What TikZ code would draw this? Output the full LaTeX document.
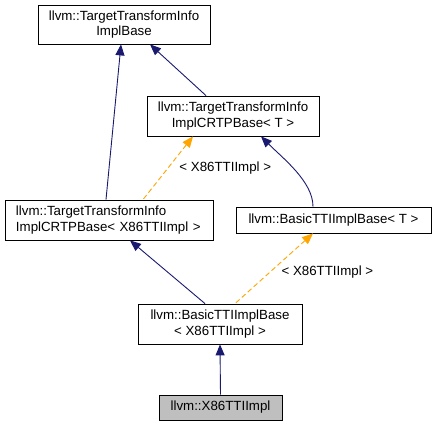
\documentclass[tikz,border=0pt]{standalone}
\usepackage{fontspec}
\setmainfont{Liberation Sans}
\usetikzlibrary{arrows.meta}
\definecolor{edgeblue}{HTML}{191970}
\definecolor{edgeorange}{HTML}{FFA500}
\definecolor{boxgray}{HTML}{BFBFBF}
\tikzset{
  cls/.style={draw=black, line width=0.8pt, fill=white, inner sep=0pt, align=center,
    font=\fontsize{13.3}{15.3}\selectfont},
  inh/.style={draw=edgeblue, line width=0.9pt, {Triangle[length=11pt,width=9pt]}-},
  tmpl/.style={draw=edgeorange, line width=0.9pt, dash pattern=on 5pt off 3pt,
    {Triangle[length=11pt,width=9pt]}-},
  lbl/.style={font=\fontsize{13.3}{15.3}\selectfont, inner sep=0pt}
}
\begin{document}
\begin{tikzpicture}[x=1pt,y=-1pt]
\useasboundingbox (0,0) rectangle (437,427);
\node[cls, minimum width=172pt, minimum height=39pt] (A) at (124,24.5)
  {llvm::TargetTransformInfo\\ImplBase};
\node[cls, minimum width=172pt, minimum height=40pt] (B) at (233,116)
  {llvm::TargetTransformInfo\\ImplCRTPBase< T >};
\node[cls, minimum width=208pt, minimum height=40pt, text width=186pt, align=left] (C) at (109,220)
  {llvm::TargetTransformInfo\\ImplCRTPBase< X86TTIImpl >};
\node[cls, minimum width=195pt, minimum height=26pt] (D) at (333.5,220)
  {llvm::BasicTTIImplBase< T >};
\node[cls, minimum width=164pt, minimum height=40pt] (E) at (220,324)
  {llvm::BasicTTIImplBase\\< X86TTIImpl >};
\node[cls, fill=boxgray, minimum width=123pt, minimum height=25pt] (F) at (220.5,407.5)
  {llvm::X86TTIImpl};

\draw[inh] ([xshift=-3pt]A.south) -- ([xshift=-3pt]C.north);
\draw[inh] ([xshift=26pt]A.south) -- ([xshift=-27pt]B.north);
\draw[tmpl] ([xshift=-40pt]B.south) -- ([xshift=34pt]C.north)
  node[lbl, pos=0.5, right=11pt] (l1) {< X86TTIImpl >};
\draw[inh] ([xshift=28pt]B.south) .. controls +(22,22) and +(0,-25) .. ([xshift=-20.5pt]D.north);
\draw[inh] ([xshift=21pt]C.south) -- ([xshift=-15pt]E.north);
\draw[tmpl] ([xshift=-20.5pt]D.south) -- ([xshift=15pt]E.north)
  node[lbl, pos=0.55, right=11pt] (l2) {< X86TTIImpl >};
\draw[inh] (E.south) -- (F.north);
\end{tikzpicture}
\end{document}
